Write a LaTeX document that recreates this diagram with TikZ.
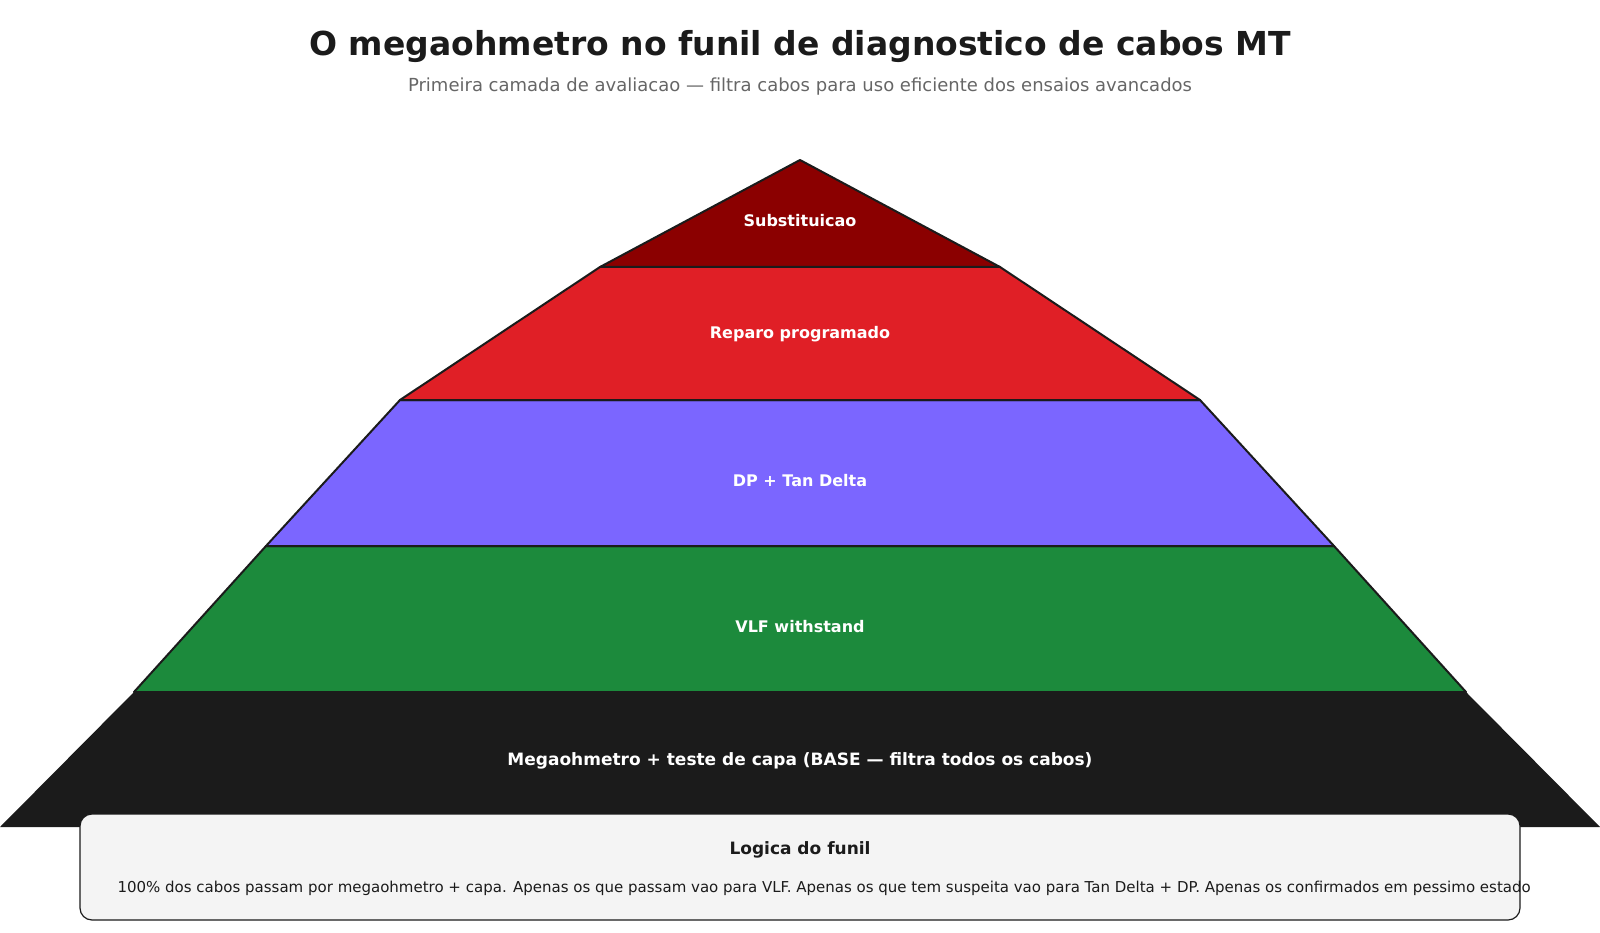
\documentclass[tikz,border=0pt]{standalone}
\usepackage{fontspec}
\setmainfont{DejaVu Sans}
\definecolor{topred}{HTML}{8B0000}
\definecolor{midred}{HTML}{E01F26}
\definecolor{purp}{HTML}{7B66FF}
\definecolor{grn}{HTML}{1C8A3C}
\definecolor{blk}{HTML}{1B1B1B}
\definecolor{boxbg}{HTML}{F4F4F4}
\begin{document}
\begin{tikzpicture}[x=1pt,y=-1pt,
  layer/.style={draw=blk,line width=2pt,line join=round},
  lab/.style={text=white,font=\fontsize{16}{19}\selectfont\bfseries}]
\useasboundingbox (0,0) rectangle (1600,933);
\node[font=\fontsize{33}{40}\selectfont\bfseries,text=blk] (title) at (800,47) {O megaohmetro no funil de diagnostico de cabos MT};
\node[font=\fontsize{18}{22}\selectfont,text=black!60] (sub) at (800,87) {Primeira camada de avaliacao — filtra cabos para uso eficiente dos ensaios avancados};
% layers
\fill[blk] (134,692) -- (1466,692) -- (1600,827) -- (0,827) -- cycle;
\draw[layer,fill=grn] (266,546) -- (1334,546) -- (1466,692) -- (134,692) -- cycle;
\draw[layer,fill=purp] (400,400) -- (1200,400) -- (1334,546) -- (266,546) -- cycle;
\draw[layer,fill=midred] (600,267) -- (1000,267) -- (1200,400) -- (400,400) -- cycle;
\draw[layer,fill=topred] (800,160) -- (1000,267) -- (600,267) -- cycle;
\node[lab] (l1) at (800,221) {Substituicao};
\node[lab] (l2) at (800,334) {Reparo programado};
\node[lab] (l3) at (800,481) {DP + Tan Delta};
\node[lab] (l4) at (800,627) {VLF withstand};
\node[lab,font=\fontsize{17}{20}\selectfont\bfseries] (l5) at (800,761) {Megaohmetro + teste de capa (BASE — filtra todos os cabos)};
% box
\draw[fill=boxbg,draw=blk,line width=1.2pt,rounded corners=12pt] (80,814) rectangle (1520,920);
\node[font=\fontsize{17}{20}\selectfont\bfseries,text=blk] (bt) at (800,850) {Logica do funil};
\node[font=\fontsize{15}{18}\selectfont,text=blk,anchor=west] (bx) at (114,888) {100\% dos cabos passam por megaohmetro + capa. Apenas os que passam vao para VLF. Apenas os que tem suspeita vao para Tan Delta + DP. Apenas os confirmados em pessimo estado};
\end{tikzpicture}
\end{document}
